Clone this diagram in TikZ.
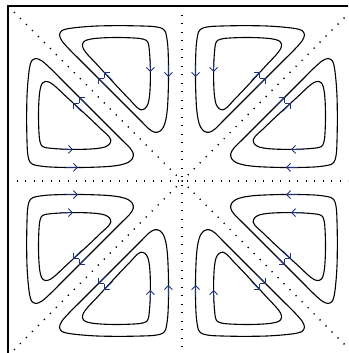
\documentclass[tikz,border=0pt]{standalone}
\usetikzlibrary{arrows.meta}
\definecolor{flowblue}{RGB}{30,50,120}
\tikzset{
  streamline/.style={line width=1.1pt, black, line join=round},
  flowarrow/.style={flowblue, line width=0.9pt, -{Straight Barb[length=4pt,width=8pt]}},
  guide/.style={line width=1.4pt, dash pattern=on 1.2pt off 7.3pt, black},
  frameline/.style={line width=1.3pt, black}
}
\newcommand{\flowcell}{%
  \draw[streamline] plot[smooth cycle, tension=0.5] coordinates {
    (-149,16.5) (-135,14.2) (-115,13.5) (-95,13.6) (-75,14.4) (-62,16) (-54,18.5) (-49.5,22.5)
    (-48.8,27.5) (-52,33) (-60,41)
    (-75,56) (-90,71) (-105,86) (-120,101) (-132,113) (-140,120) (-146,122.5) (-150.5,120)
    (-152.5,113) (-154,100) (-155,85) (-155.3,70) (-155.3,55) (-155,40) (-154.5,29) (-153,21)};
  \draw[streamline] plot[smooth cycle, tension=0.5] coordinates {
    (-137,33.5) (-125,32.2) (-110,31.6) (-95,31.8) (-85,32.5) (-77,34) (-72.5,37)
    (-71.2,41) (-74,45.5) (-80,51)
    (-92,62.5) (-105,74.5) (-117,85.5) (-126,94) (-132,98.5) (-137,99.5) (-140.5,96.5)
    (-142.3,89) (-143.2,78) (-143.5,65) (-143.2,52) (-142.5,42) (-140.8,36)};
  \draw[flowarrow] (-116,13.6) -- (-104,13.6);
  \draw[flowarrow] (-121,31.6) -- (-109,31.6);
  \draw[flowarrow] (-94.5,75.5) -- (-103,84);
  \draw[flowarrow] (-100.5,69.5) -- (-109,78);
}
\begin{document}
\begin{tikzpicture}[x=1pt,y=1pt]
  \useasboundingbox (0,0) rectangle (348,353);
  \clip (0,0) rectangle (348,353);
  \begin{scope}[shift={(182,172)}]
    \draw[guide] (-174,175) -- (174,-175);
    \draw[guide] (-174,-175) -- (174,175);
    \draw[guide] (-174,0) -- (174,0);
    \draw[guide] (0,-175) -- (0,175);
    \draw[frameline] (-174,-175) rectangle (174,175);
    \begin{scope}\flowcell\end{scope}
    \begin{scope}[cm={0,-1,-1,0,(0,0)}]\flowcell\end{scope}
    \begin{scope}[cm={0,-1,1,0,(0,0)}]\flowcell\end{scope}
    \begin{scope}[cm={-1,0,0,1,(0,0)}]\flowcell\end{scope}
    \begin{scope}[cm={1,0,0,-1,(0,0)}]\flowcell\end{scope}
    \begin{scope}[cm={0,1,1,0,(0,0)}]\flowcell\end{scope}
    \begin{scope}[cm={0,1,-1,0,(0,0)}]\flowcell\end{scope}
    \begin{scope}[cm={-1,0,0,-1,(0,0)}]\flowcell\end{scope}
  \end{scope}
\end{tikzpicture}
\end{document}
